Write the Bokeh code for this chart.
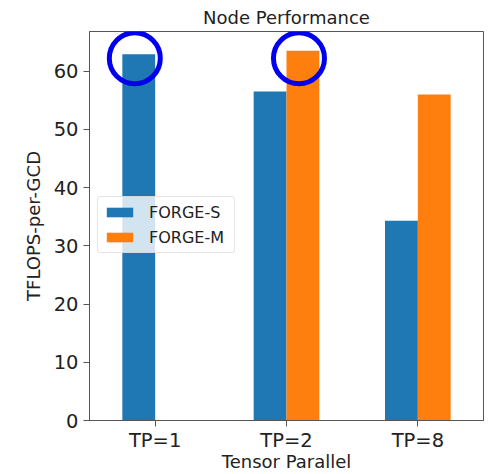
from bokeh.plotting import figure
from bokeh.models import FactorRange, Range1d, FixedTicker, ColumnDataSource
from bokeh.transform import dodge
from bokeh.embed import file_html
from bokeh.resources import INLINE

# ---- data ----
categories = ["TP=1", "TP=2", "TP=8"]
forge_s = [62.9, 56.5, 34.3]
forge_m = [0.0, 63.5, 56.0]
series_names = ["FORGE-S", "FORGE-M"]
y_ticks = [0, 10, 20, 30, 40, 50, 60]
highlights = [("TP=1", "FORGE-S"), ("TP=2", "FORGE-M")]

FONT = "DejaVu Sans"
BLUE = "#1f77b4"
ORANGE = "#ff7f0e"

src = ColumnDataSource(dict(cat=categories, s=forge_s, m=forge_m))

p = figure(
    width=486, height=474,
    x_range=FactorRange(*categories, range_padding=0),
    y_range=Range1d(0, 66.8),
    output_backend="svg", toolbar_location=None,
    min_border_left=89, min_border_right=3, min_border_top=0, min_border_bottom=0,
    title="Node Performance",
)

BW = 0.25
p.vbar(x=dodge("cat", -BW / 2, range=p.x_range), top="s", width=BW, source=src,
       fill_color=BLUE, line_color=None, legend_label=series_names[0])
p.vbar(x=dodge("cat", BW / 2, range=p.x_range), top="m", width=BW, source=src,
       fill_color=ORANGE, line_color=None, legend_label=series_names[1])

# highlight rings around selected bar tops
offs = {series_names[0]: -BW / 2, series_names[1]: BW / 2}
ring_y = max(max(forge_s), max(forge_m)) - 1.3
hl = ColumnDataSource(dict(
    x=[(c, offs[s] - 0.03) for c, s in highlights],
    y=[ring_y for _ in highlights],
))
p.scatter(x="x", y="y", source=hl, marker="circle", size=51,
          fill_color=None, line_color="#0000ee", line_width=5)

# title
p.title.text_font = FONT
p.title.text_font_size = "18px"
p.title.text_font_style = "normal"
p.title.align = "center"
p.title.text_color = "#222222"
p.title.standoff = 8

# grid / outline
p.xgrid.grid_line_color = None
p.ygrid.grid_line_color = None
p.outline_line_color = "#555555"
p.outline_line_width = 1

for ax in (p.xaxis[0], p.yaxis[0]):
    ax.axis_line_color = "#555555"
    ax.major_tick_line_color = "#555555"
    ax.major_tick_out = 6
    ax.major_tick_in = 0
    ax.minor_tick_line_color = None
    ax.major_label_text_font = FONT
    ax.major_label_text_font_size = "19.5px"
    ax.major_label_text_color = "#222222"
    ax.axis_label_text_font = FONT
    ax.axis_label_text_font_size = "18px"
    ax.axis_label_text_font_style = "normal"
    ax.axis_label_text_color = "#222222"

p.xaxis.axis_label = "Tensor Parallel"
p.yaxis.axis_label = "TFLOPS-per-GCD"
p.yaxis.ticker = FixedTicker(ticks=y_ticks)
p.xaxis.major_label_standoff = 2
p.xaxis.axis_label_standoff = -4
p.yaxis.major_label_standoff = 5
p.yaxis.axis_label_standoff = 7

# legend
lg = p.legend[0]
lg.location = (8, 167)
lg.label_text_font = FONT
lg.label_text_font_size = "16px"
lg.label_text_color = "#222222"
lg.glyph_width = 33
lg.glyph_height = 12
lg.label_height = 20
lg.label_width = 80
lg.label_standoff = 13
lg.spacing = 5
lg.padding = 5
lg.margin = 0
lg.background_fill_alpha = 0.8
lg.border_line_color = "#cccccc"
lg.border_radius = 3

open("out.html", "w").write(file_html(p, INLINE))
